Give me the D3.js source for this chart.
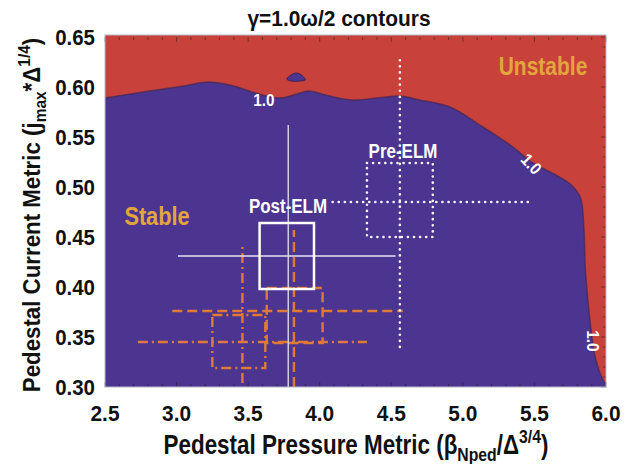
<!DOCTYPE html>
<html>
<head>
<meta charset="utf-8">
<script src="https://cdn.jsdelivr.net/npm/d3@7"></script>
<style>
  body { margin: 0; background: #fff; }
  text { font-family: "Liberation Sans", Arial, sans-serif; font-weight: bold; fill: #111; }
</style>
</head>
<body>
<div id="chart"></div>
<script>
// tick values
const xTicks = [2.5, 3.0, 3.5, 4.0, 4.5, 5.0, 5.5, 6.0];
const yTicks = [0.30, 0.35, 0.40, 0.45, 0.50, 0.55, 0.60, 0.65];

// gamma = 1.0 contour (stable below / left)
const contourX = [2.5, 2.81, 3.05, 3.22, 3.4, 3.55, 3.72, 3.84, 3.92, 4.07, 4.23, 4.4, 4.56, 4.7, 4.91, 5.14, 5.35, 5.49, 5.65, 5.75, 5.82, 5.845, 5.855, 5.875, 5.9, 5.93, 5.98, 6.0];
const contourY = [0.589, 0.596, 0.601, 0.605, 0.601, 0.594, 0.589, 0.593, 0.596, 0.591, 0.587, 0.589, 0.591, 0.587, 0.580, 0.560, 0.540, 0.524, 0.512, 0.503, 0.490, 0.460, 0.420, 0.385, 0.352, 0.327, 0.307, 0.303];

// small stable island
const islandX = [3.77, 3.80, 3.84, 3.88, 3.90, 3.86, 3.80];
const islandY = [0.608, 0.612, 0.614, 0.611, 0.607, 0.606, 0.606];

// error bars: centre, whisker extents, box extents
const postELM = { x: 3.78, y: 0.431, x0: 3.01, x1: 4.53, y0: 0.300, y1: 0.562, bx0: 3.58, bx1: 3.96, by0: 0.398, by1: 0.464 };
const preELM = { x: 4.56, y: 0.485, x0: 4.09, x1: 5.46, y0: 0.340, y1: 0.632, bx0: 4.33, bx1: 4.79, by0: 0.450, by1: 0.524 };
const dashELM = { x: 3.82, y: 0.376, x0: 2.97, x1: 4.58, y0: 0.300, y1: 0.457, bx0: 3.63, bx1: 4.02, by0: 0.344, by1: 0.399 };
const dashDotELM = { x: 3.46, y: 0.345, x0: 2.73, x1: 4.33, y0: 0.304, y1: 0.444, bx0: 3.25, bx1: 3.62, by0: 0.319, by1: 0.372 };

const W = 624, H = 464;
const plot = { left: 105, right: 606, top: 37, bottom: 387 };
const red = "#c8413a", blue = "#4b3590", gold = "#e3a53c", orange = "#e07a34";

const svg = d3.select("#chart").append("svg")
  .attr("width", W).attr("height", H);

const x = d3.scaleLinear().domain([2.5, 6.0]).range([plot.left, plot.right]);
const y = d3.scaleLinear().domain([0.30, 0.65]).range([plot.bottom, plot.top]);

const defs = svg.append("defs");
defs.append("clipPath").attr("id", "clip").append("rect")
  .attr("x", plot.left).attr("y", plot.top - 2)
  .attr("width", plot.right - plot.left).attr("height", plot.bottom - plot.top + 2);

const g = svg.append("g").attr("clip-path", "url(#clip)");

// unstable background
g.append("rect")
  .attr("x", plot.left).attr("y", plot.top - 2)
  .attr("width", plot.right - plot.left).attr("height", plot.bottom - plot.top + 2)
  .attr("fill", red);

const contour = contourX.map((d, i) => [d, contourY[i]]);
const line = d3.line().x(d => x(d[0])).y(d => y(d[1])).curve(d3.curveCatmullRom);

g.append("path")
  .attr("d", line(contour) + `L${x(6.0)},${y(0.30) + 2}L${x(2.5)},${y(0.30) + 2}Z`)
  .attr("fill", blue);
g.append("path")
  .attr("d", line(contour))
  .attr("fill", "none").attr("stroke", "#3a2450").attr("stroke-width", 1.5).attr("opacity", 0.6);

const island = islandX.map((d, i) => [d, islandY[i]]);
g.append("path")
  .attr("d", d3.line().x(d => x(d[0])).y(d => y(d[1])).curve(d3.curveCatmullRomClosed)(island))
  .attr("fill", blue).attr("stroke", "#3a2450").attr("stroke-width", 1);

// axis ticks (inside)
const tickG = svg.append("g").attr("stroke", "#222").attr("stroke-opacity", 0.5);
const minorX = d3.range(2.5, 6.001, 0.1);
const minorY = d3.range(0.30, 0.6501, 0.01);
tickG.selectAll(".xb").data(minorX).join("line")
  .attr("x1", d => x(d)).attr("x2", d => x(d))
  .attr("y1", plot.bottom).attr("y2", (d, i) => plot.bottom - (i % 5 === 0 ? 5 : 3));
tickG.selectAll(".xt").data(minorX).join("line")
  .attr("x1", d => x(d)).attr("x2", d => x(d))
  .attr("y1", plot.top).attr("y2", (d, i) => plot.top + (i % 5 === 0 ? 5 : 3));
tickG.selectAll(".yr").data(minorY).join("line")
  .attr("y1", d => y(d)).attr("y2", d => y(d))
  .attr("x1", plot.right).attr("x2", (d, i) => plot.right - (i % 5 === 0 ? 5 : 3));

// error bars
function errorBar(d, color, width, dash, cap, box) {
  const eb = svg.append("g").attr("clip-path", "url(#clip)")
    .attr("stroke", color).attr("stroke-width", width).attr("fill", "none")
    .attr("stroke-dasharray", dash).attr("stroke-linecap", cap);
  eb.append("line").attr("x1", x(d.x0)).attr("x2", x(d.x1)).attr("y1", y(d.y)).attr("y2", y(d.y));
  eb.append("line").attr("x1", x(d.x)).attr("x2", x(d.x)).attr("y1", y(d.y0)).attr("y2", y(d.y1));
  if (box) {
    eb.append("rect")
      .attr("x", x(d.bx0)).attr("y", y(d.by1))
      .attr("width", x(d.bx1) - x(d.bx0)).attr("height", y(d.by0) - y(d.by1));
  }
}
errorBar(dashDotELM, orange, 2.4, "10,4,2,4", "butt", true);
errorBar(dashELM, orange, 2.4, "10,5", "butt", true);
errorBar(preELM, "#f4f4f4", 2.6, "0.1,6", "round", true);
errorBar(postELM, "#e4e2f0", 1.3, null, "butt", false);
svg.append("rect")
  .attr("x", x(postELM.bx0)).attr("y", y(postELM.by1))
  .attr("width", x(postELM.bx1) - x(postELM.bx0)).attr("height", y(postELM.by0) - y(postELM.by1))
  .attr("fill", "none").attr("stroke", "#fff").attr("stroke-width", 2.5);

// plot frame
svg.append("rect")
  .attr("x", plot.left).attr("y", plot.top - 2)
  .attr("width", plot.right - plot.left).attr("height", plot.bottom - plot.top + 2)
  .attr("fill", "none").attr("stroke", "#b8b8c8").attr("stroke-width", 1);

// condensed text helper
function label(px, py, size, sx, rot, fill, anchor) {
  return svg.append("text")
    .attr("transform", `translate(${px},${py}) rotate(${rot}) scale(${sx},1)`)
    .attr("text-anchor", anchor || "middle").attr("font-size", size)
    .style("fill", fill || "#111");
}

// tick labels
xTicks.forEach(d => label(x(d), 421, 22, 0.95, 0).text(d.toFixed(1)));
yTicks.forEach(d => label(95, y(d) + 8, 22, 0.93, 0, null, "end").text(d.toFixed(2)));

// title
label(339, 26, 22, 0.95, 0).text("\u03b3=1.0\u03c9/2 contours");

// x axis title
const xt = label(356, 454, 27, 0.83, 0);
xt.append("tspan").text("Pedestal Pressure Metric (\u03b2");
xt.append("tspan").attr("font-size", 19).attr("dy", 7).text("Nped");
xt.append("tspan").attr("dy", -7).text("/\u0394");
xt.append("tspan").attr("font-size", 19).attr("dy", -11).text("3/4");
xt.append("tspan").attr("dy", 11).text(")");

// y axis title
const yt = label(40, 215, 24.5, 0.91, -90);
yt.append("tspan").text("Pedestal Current Metric (j");
yt.append("tspan").attr("font-size", 17).attr("dy", 6).text("max");
yt.append("tspan").attr("dy", -6).text("*\u0394");
yt.append("tspan").attr("font-size", 17).attr("dy", -10).text("1/4");
yt.append("tspan").attr("dy", 10).text(")");

// in-plot labels
label(264, 106, 17, 0.9, 0, "#fff").text("1.0");
label(527, 168, 17, 0.9, 47, "#fff").text("1.0");
label(587, 341, 17, 0.9, 90, "#fff").text("1.0");
label(403, 158, 19.5, 0.87, 0, "#fff").text("Pre-ELM");
label(288, 213, 19.5, 0.87, 0, "#fff").text("Post-ELM");
label(157, 225, 25, 0.87, 0, gold).text("Stable");
label(543, 75, 25, 0.84, 0, gold).text("Unstable");
</script>
</body>
</html>
